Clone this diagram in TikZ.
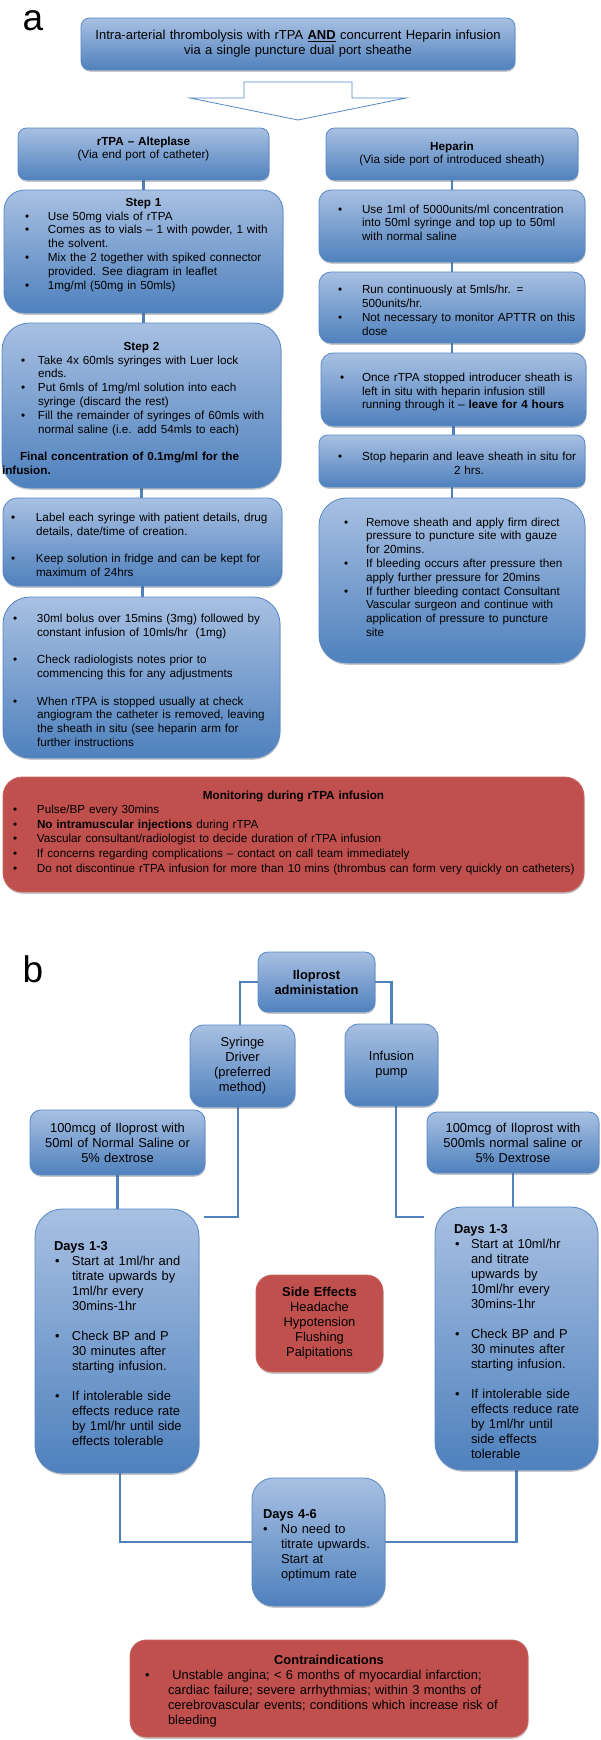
\documentclass[tikz,border=0pt]{standalone}
\usepackage{fontspec}
\setmainfont{Liberation Sans}
\usetikzlibrary{shadows,backgrounds}
\definecolor{btop}{RGB}{168,192,226}
\definecolor{bbot}{RGB}{79,129,189}
\definecolor{bline}{RGB}{86,136,198}
\definecolor{rfill}{RGB}{192,80,77}
\definecolor{rline}{RGB}{200,100,96}
\definecolor{lnk}{RGB}{79,129,189}
\setlength\parindent{0pt}
\newlength\bulx
\newlength\txtx
\newcommand\setbul[2]{\setlength\bulx{#1pt}\setlength\txtx{#2pt}}
\newcommand\bitem[1]{\par\rightskip=-40pt plus 1fil\relax\noindent\hangindent=\txtx\hangafter=1\makebox[\txtx][l]{\hspace*{\bulx}\textbullet}#1}
\newcommand\plainp[2]{\par\rightskip=-40pt plus 1fil\relax\noindent\hspace*{#1pt}#2}
\newcommand\blankln{\par\vspace{\baselineskip}}
\newcommand\padb[1]{\par\vskip#1pt\hrule height0pt depth0pt width0pt}
\newcommand\ctitle[1]{\par{\centering\textbf{#1}\par}}
\newcommand\fntA{\fontsize{11.7}{13.8}\selectfont}
\newcommand\fntB{\fontsize{12.9}{15}\selectfont}
\newcommand\fntT{\fontsize{13}{15}\selectfont}
\newcommand\fntM{\fontsize{11.7}{14.6}\selectfont}
\newcommand\mkbox[7]{%
  \pgfmathsetmacro\mkW{#5-#3}%
  \pgfmathsetmacro\mkH{#6-#4}%
  \pgfmathsetmacro\mkR{min(\mkW,\mkH)/6}%
  \pgfmathsetmacro\mkX{(#3+#5)/2}%
  \pgfmathsetmacro\mkY{(#4+#6)/2}%
  \node[#2, minimum width=\mkW pt, minimum height=\mkH pt, text width=\mkW pt, rounded corners=\mkR pt] (#1) at (\mkX,\mkY) {#7\par};%
}
\tikzset{
  bluebox/.style={draw=bline, line width=0.8pt, top color=btop, bottom color=bbot, inner sep=0pt, text=black,
    drop shadow={shadow xshift=0.6pt, shadow yshift=-1.8pt, opacity=0.3, fill=black!70}},
  redbox/.style={draw=rline, line width=0.8pt, fill=rfill, inner sep=0pt, text=black,
    drop shadow={shadow xshift=0.6pt, shadow yshift=-1.8pt, opacity=0.3, fill=black!70}},
  conn/.style={draw=lnk, line width=2.2pt},
  connb/.style={draw=lnk, line width=2.6pt},
  panel/.style={font=\fontsize{37}{40}\selectfont, inner sep=0pt, anchor=base west}
}
\begin{document}
\begin{tikzpicture}[x=1pt,y=-1pt]
\useasboundingbox (0,0) rectangle (600,1740);

% ---------------- part a ----------------
\node[panel] (la) at (22.5,30) {a};

\mkbox{T}{bluebox,font=\fntT,align=center}{81}{18}{515}{70}{Intra-arterial thrombolysis with rTPA \underline{\textbf{AND}} concurrent Heparin infusion\\via a single puncture dual port sheathe}

\draw[bline, fill=white, line width=0.8pt] (244,82) -- (352,82) -- (352,98) -- (406,98) -- (298,120) -- (190,98) -- (244,98) -- cycle;

\mkbox{R0}{bluebox,font=\fntA,align=center}{18}{128}{269}{180}{\textbf{rTPA – Alteplase}\\(Via end port of catheter)\padb{10}}
\mkbox{H0}{bluebox,font=\fntA,align=center}{326}{128}{578}{180}{\textbf{Heparin}\\(Via side port of introduced sheath)}

\mkbox{R1}{bluebox,font=\fntA,align=left}{4}{190}{283}{313}{\setbul{21}{44}\ctitle{Step 1}%
\bitem{Use 50mg vials of rTPA}%
\bitem{Comes as to vials – 1 with powder, 1 with\newline the solvent.}%
\bitem{Mix the 2 together with spiked connector\newline provided. See diagram in leaflet}%
\bitem{1mg/ml (50mg in 50mls)}\padb{19}}

\mkbox{R2}{bluebox,font=\fntA,align=left}{2}{323}{281}{488}{\setbul{19}{36}\ctitle{Step 2}%
\bitem{Take 4x 60mls syringes with Luer lock\newline ends.}%
\bitem{Put 6mls of 1mg/ml solution into each\newline syringe (discard the rest)}%
\bitem{Fill the remainder of syringes of 60mls with\newline normal saline (i.e. add 54mls to each)}%
\blankln
\plainp{18}{\textbf{Final concentration of 0.1mg/ml for the\newline infusion.}}}

\mkbox{R3}{bluebox,font=\fntA,align=left}{3}{498}{282}{586}{\setbul{8}{33}%
\bitem{Label each syringe with patient details, drug\newline details, date/time of creation.}%
\blankln
\bitem{Keep solution in fridge and can be kept for\newline maximum of 24hrs}}

\mkbox{R4}{bluebox,font=\fntA,align=left}{3}{597}{280}{758}{\setbul{10}{34}%
\bitem{30ml bolus over 15mins (3mg) followed by\newline constant infusion of 10mls/hr\ \ (1mg)}%
\blankln
\bitem{Check radiologists notes prior to\newline commencing this for any adjustments}%
\blankln
\bitem{When rTPA is stopped usually at check\newline angiogram the catheter is removed, leaving\newline the sheath in situ (see heparin arm for\newline further instructions}}

\mkbox{H1}{bluebox,font=\fntA,align=left}{319}{190}{585}{262}{\setbul{19}{43}%
\bitem{Use 1ml of 5000units/ml concentration\newline into 50ml syringe and top up to 50ml\newline with normal saline}\padb{12}}

\mkbox{H2}{bluebox,font=\fntA,align=left}{319}{272}{585}{343}{\setbul{19}{43}%
\bitem{Run continuously at 5mls/hr. =\newline 500units/hr.}%
\bitem{Not necessary to monitor APTTR on this\newline dose}}

\mkbox{H3}{bluebox,font=\fntA,align=left}{321}{353}{586}{426}{\setbul{19}{41}%
\bitem{Once rTPA stopped introducer sheath is\newline left in situ with heparin infusion still\newline running through it – \textbf{leave for 4 hours}}}

\mkbox{H4}{bluebox,font=\fntA,align=left}{319}{435}{585}{487}{\setbul{19}{43}%
\par\noindent\makebox[\txtx][l]{\hspace*{\bulx}\textbullet}\parbox[t]{214pt}{\centering Stop heparin and leave sheath in situ for\\2 hrs.}}

\mkbox{H5}{bluebox,font=\fntA,align=left}{319}{498}{585}{663}{\setbul{25}{47}%
\bitem{Remove sheath and apply firm direct\newline pressure to puncture site with gauze\newline for 20mins.}%
\bitem{If bleeding occurs after pressure then\newline apply further pressure for 20mins}%
\bitem{If further bleeding contact Consultant\newline Vascular surgeon and continue with\newline application of pressure to puncture\newline site}\padb{12}}

\mkbox{M}{redbox,font=\fntM,align=left}{3}{777}{584}{892}{\setbul{10}{34}\ctitle{Monitoring during rTPA infusion}%
\bitem{Pulse/BP every 30mins}%
\bitem{\textbf{No intramuscular injections} during rTPA}%
\bitem{Vascular consultant/radiologist to decide duration of rTPA infusion}%
\bitem{If concerns regarding complications – contact on call team immediately}%
\bitem{Do not discontinue rTPA infusion for more than 10 mins (thrombus can form very quickly on catheters)}\padb{10}}

% ---------------- part b ----------------
\node[panel] (lb) at (22.5,982) {b};

\mkbox{I}{bluebox,font=\fntB,align=center}{258}{952}{375}{1012}{\textbf{Iloprost}\\\textbf{administation}}
\mkbox{S}{bluebox,font=\fntB,align=center}{190}{1025}{295}{1107}{Syringe\\Driver\\(preferred\\method)}
\mkbox{P}{bluebox,font=\fntB,align=center}{345}{1024}{438}{1106}{Infusion\\pump}
\mkbox{L1}{bluebox,font=\fntB,align=center}{30}{1110}{205}{1175}{100mcg of Iloprost with\\50ml of Normal Saline or\\5\% dextrose}
\mkbox{L2}{bluebox,font=\fntB,align=center}{427}{1112}{599}{1173}{100mcg of Iloprost with\\500mls normal saline or\\5\% Dextrose}

\mkbox{D1}{bluebox,font=\fntB,align=left}{35}{1209}{199}{1473}{\setbul{20}{37}\plainp{19}{\textbf{Days 1-3}}%
\bitem{Start at 1ml/hr and\newline titrate upwards by\newline 1ml/hr every\newline 30mins-1hr}%
\blankln
\bitem{Check BP and P\newline 30 minutes after\newline starting infusion.}%
\blankln
\bitem{If intolerable side\newline effects reduce rate\newline by 1ml/hr until side\newline effects tolerable}}

\mkbox{D2}{bluebox,font=\fntB,align=left}{435}{1207}{598}{1470}{\setbul{20}{36}\plainp{19}{\textbf{Days 1-3}}%
\bitem{Start at 10ml/hr\newline and titrate\newline upwards by\newline 10ml/hr every\newline 30mins-1hr}%
\blankln
\bitem{Check BP and P\newline 30 minutes after\newline starting infusion.}%
\blankln
\bitem{If intolerable side\newline effects reduce rate\newline by 1ml/hr until\newline side effects\newline tolerable}}

\mkbox{SE}{redbox,font=\fntB,align=center}{256}{1275}{383}{1372}{\textbf{Side Effects}\\Headache\\Hypotension\\Flushing\\Palpitations}

\mkbox{D3}{bluebox,font=\fntB,align=left}{252}{1478}{385}{1606}{\setbul{11}{29}\plainp{11}{\textbf{Days 4-6}}%
\bitem{No need to\newline titrate upwards.\newline Start at\newline optimum rate}}

\mkbox{C}{redbox,font=\fntB,align=left}{130}{1640}{528}{1737}{\setbul{15}{38}\ctitle{Contraindications}%
\bitem{\ Unstable angina; < 6 months of myocardial infarction;\newline cardiac failure; severe arrhythmias; within 3 months of\newline cerebrovascular events; conditions which increase risk of\newline bleeding}}

\coordinate (sdend) at (204,1217);
\coordinate (pdend) at (424,1217);

% ---------------- connectors ----------------
\begin{pgfonlayer}{background}
\fill[white] (0,0) rectangle (600,1740);
\draw[conn] (R0.south) -- (R0.south |- R1.north);
\draw[conn] (R1.south) -- (R1.south |- R2.north);
\draw[conn] (R2.south) -- (R2.south |- R3.north);
\draw[conn] (R3.south) -- (R3.south |- R4.north);
\draw[conn] (H0.south) -- (H0.south |- H1.north);
\draw[conn] (H1.south) -- (H1.south |- H2.north);
\draw[conn] (H2.south) -- (H2.south |- H3.north);
\draw[conn] (H3.south) -- (H3.south |- H4.north);
\draw[conn] (H4.south) -- (H4.south |- H5.north);
\draw[connb] (I.west) -| ([xshift=-2.5pt]S.north);
\draw[connb] (I.east) -| (P.north);
\draw[connb] ([xshift=-4.5pt]S.south) |- (sdend);
\draw[connb] ([xshift=4.5pt]P.south) |- (pdend);
\draw[connb] (L1.south) -- (L1.south |- D1.north);
\draw[connb] (L2.south) -- (L2.south |- D2.north);
\draw[connb] ([xshift=3pt]D1.south) |- (D3.west);
\draw[connb] (D2.south) |- (D3.east);
\end{pgfonlayer}
\end{tikzpicture}
\end{document}
